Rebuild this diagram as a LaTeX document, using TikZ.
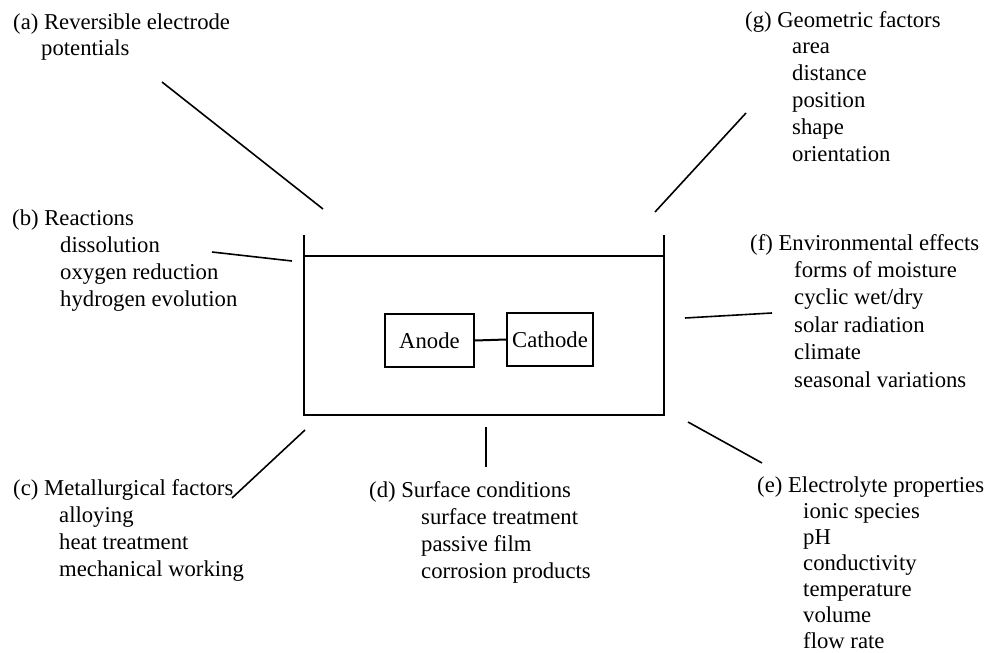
\documentclass[tikz,border=0pt]{standalone}
\usepackage{fontspec}
\setmainfont{Liberation Serif}

\begin{document}
\begin{tikzpicture}[x=1pt,y=-1pt]
\tikzstyle{every node}=[font=\fontsize{22.7}{26.8}\selectfont,inner sep=0pt];
\tikzstyle{factor}=[anchor=base west,align=left];
\tikzstyle{part}=[draw,line width=2.2pt,minimum height=53pt];
\tikzstyle{lead}=[line width=1.6pt];
\useasboundingbox (0,0) rectangle (989,653);
% the cell
\draw[line width=2.4pt] (304,235) -- (304,415) -- (664,415) -- (664,235);
\draw[line width=2.4pt] (304,256) -- (664,256);
\node[part,minimum width=89pt] (anode) at (429.5,340.5) {Anode};
\node[part,minimum width=86pt] (cathode) at (550,339.5) {Cathode};
\draw[line width=2pt] (anode.east) -- (cathode.west);
% factors (base = baseline of the last line)
\node[factor] (rev) at (13,56) {(a) Reversible electrode\\\hspace*{28pt}potentials};
\node[factor] (react) at (12,306) {(b) Reactions\\\hspace*{48pt}dissolution\\\hspace*{48pt}oxygen reduction\\\hspace*{48pt}hydrogen evolution};
\node[factor] (metal) at (13,576) {(c) Metallurgical factors\\\hspace*{46pt}alloying\\\hspace*{46pt}heat treatment\\\hspace*{46pt}mechanical working};
\node[factor] (surf) at (369,578) {(d) Surface conditions\\\hspace*{52pt}surface treatment\\\hspace*{52pt}passive film\\\hspace*{52pt}corrosion products};
\node[factor,font=\fontsize{22.7}{26}\selectfont] (elec) at (757,648) {(e) Electrolyte properties\\\hspace*{46pt}ionic species\\\hspace*{46pt}pH\\\hspace*{46pt}conductivity\\\hspace*{46pt}temperature\\\hspace*{46pt}volume\\\hspace*{46pt}flow rate};
\node[factor,font=\fontsize{22.7}{27.4}\selectfont] (env) at (750,387) {(f) Environmental effects\\\hspace*{44pt}forms of moisture\\\hspace*{44pt}cyclic wet/dry\\\hspace*{44pt}solar radiation\\\hspace*{44pt}climate\\\hspace*{44pt}seasonal variations};
\node[factor] (geom) at (745,161) {(g) Geometric factors\\\hspace*{47pt}area\\\hspace*{47pt}distance\\\hspace*{47pt}position\\\hspace*{47pt}shape\\\hspace*{47pt}orientation};
% leader lines
\coordinate (a1) at (162,82);  \coordinate (a2) at (323,209);
\coordinate (b1) at (212,252); \coordinate (b2) at (292,261);
\coordinate (c1) at (232,498); \coordinate (c2) at (305,430);
\coordinate (d1) at (486,427); \coordinate (d2) at (486,467);
\coordinate (e1) at (688,422); \coordinate (e2) at (762,463);
\coordinate (f1) at (685,318); \coordinate (f2) at (772,313);
\coordinate (g1) at (746,113); \coordinate (g2) at (655,212);
\foreach \from/\to in {a1/a2, b1/b2, c1/c2, d1/d2, e1/e2, f1/f2, g1/g2}
    \draw[lead] (\from) -- (\to);
\end{tikzpicture}
\end{document}
